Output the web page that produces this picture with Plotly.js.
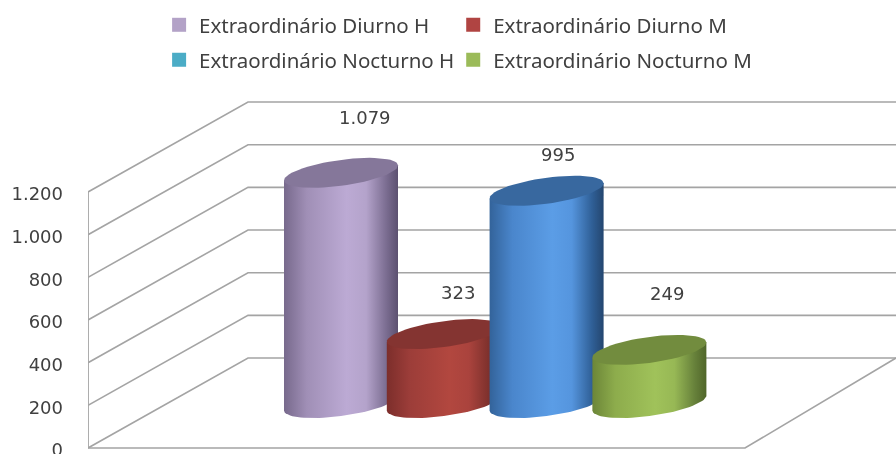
<!DOCTYPE html>
<html><head><meta charset="utf-8">
<script src="https://cdn.plot.ly/plotly-3.0.1.min.js"></script>
<style>html,body{margin:0;padding:0;background:#fff;overflow:hidden}#chart{width:896px;height:454px;filter:blur(0.45px)}</style>
</head><body><div id="chart"></div>
<script>
// Data
const seriesNames = ['Extraordinário Diurno H','Extraordinário Diurno M','Extraordinário Nocturno H','Extraordinário Nocturno M'];
const seriesValues = [1079, 323, 995, 249];
const tickValues = [0,200,400,600,800,1000,1200];
const tickLabels = ['0','200','400','600','800','1.000','1.200'];

// Styles
const legendColors = ['#b3a2c7','#b04442','#4bacc6','#9bbb59'];
const capColors = ['#85779a','#843431','#38689f','#728c3e'];
const bodyScales = [
  ['#77698c','#a08fb6','#bcaad4','#b4a3cb','#7a6c90','#5c5170'],
  ['#7c2e2b','#9c3d39','#b2473f','#aa433d','#7c302c','#652422'],
  ['#33639a','#4a86cc','#5b9de6','#5595de','#2f5f96','#24466f'],
  ['#6c8638','#8dac4c','#a0c25a','#97b855','#66803a','#50662a']
];
const stops = [0,0.2,0.55,0.72,0.9,1];
const gridColor = '#a4a4a4', textColor = '#404040';
const labelShiftX = [24,14,11,18], labelShiftY = [55,42,36,56];

// Oblique projection, in axis units
const pxX = 102.8, pxV = 0.2133;
const depthX = 160/pxX, depthV = 90/pxV;
const xMin = (88-261)/pxX, xMax = (896-261)/pxX, xFloorEnd = (745-261)/pxX;
const capA = 57/pxX, capB = 13/pxV, capSkew = 7.5/pxV, seat = 0.5;

function ell(cx, cy, t){ return [cx+capA*Math.cos(t), cy+capB*Math.sin(t)+capSkew*Math.cos(t)]; }
function arc(cx, cy, t0, t1, n){ const p=[]; for(let i=0;i<=n;i++){p.push(ell(cx,cy,t0+(t1-t0)*i/n));} return p; }

const traces = [];
// walls and floor
tickValues.forEach(v=>{
  traces.push({type:'scatter',mode:'lines',x:[xMin,xMin+depthX,xMax],y:[v,v+depthV,v+depthV],
    line:{color:gridColor,width:1.6},showlegend:false,hoverinfo:'skip',cliponaxis:false});
});
traces.push({type:'scatter',mode:'lines',x:[xMin,xMin],y:[0,tickValues[tickValues.length-1]],line:{color:gridColor,width:1.8},showlegend:false,hoverinfo:'skip',cliponaxis:false});
traces.push({type:'scatter',mode:'lines',x:[xMin,xFloorEnd,xMax],y:[0,0,depthV],line:{color:gridColor,width:1.6},showlegend:false,hoverinfo:'skip',cliponaxis:false});

// cylinders
seriesValues.forEach((v,i)=>{
  const cx = i + seat*depthX, base = seat*depthV, top = base+v;
  const low = arc(cx,base,Math.PI,2*Math.PI,40);
  const right = ell(cx,top,0), left = ell(cx,top,Math.PI);
  const body = low.concat([right,left]);
  traces.push({type:'scatter',mode:'lines',x:body.map(p=>p[0]),y:body.map(p=>p[1]),fill:'toself',
    line:{width:0,color:bodyScales[i][2]},
    fillgradient:{type:'horizontal',colorscale:stops.map((s,k)=>[s,bodyScales[i][k]])},
    showlegend:false,hoverinfo:'skip'});
  const cap = arc(cx,top,0,2*Math.PI,60);
  traces.push({type:'scatter',mode:'lines',x:cap.map(p=>p[0]),y:cap.map(p=>p[1]),fill:'toself',fillcolor:capColors[i],
    line:{width:0,color:capColors[i]},showlegend:false,hoverinfo:'skip'});
});

// legend entries: one small legend per series, laid out in two rows and two columns
const legendIds = ['legend','legend2','legend3','legend4'];
const legendX = [0.088,0.452,0.088,0.452];
const legendY = [0.945,0.945,0.868,0.868];
seriesNames.forEach((n,i)=>{
  traces.push({type:'scatter',mode:'markers',x:[null],y:[null],name:n,legend:legendIds[i],
    marker:{symbol:'square',size:14,color:legendColors[i]},showlegend:true});
});

const annotations = seriesValues.map((v,i)=>({
  x:i+seat*depthX,y:seat*depthV+v,xref:'x',yref:'y',showarrow:false,
  text:String(v).replace(/\B(?=(\d{3})+$)/g,'.'),xshift:labelShiftX[i],yshift:labelShiftY[i],
  font:{family:'DejaVu Sans',size:18,color:textColor}
}));

const layout = {
  width:896,height:454,paper_bgcolor:'#fff',plot_bgcolor:'#fff',
  margin:{l:88,r:0,t:0,b:0},showlegend:true,
  xaxis:{range:[xMin,xMax],visible:false,fixedrange:true},
  yaxis:{range:[(448-454)/pxV,448/pxV],tickmode:'array',tickvals:tickValues,ticktext:tickLabels,
    showgrid:false,zeroline:false,showline:false,ticks:'',ticklabelstandoff:24,ticklabeloverflow:'allow',ticklabelshift:2,fixedrange:true,
    tickfont:{family:'DejaVu Sans',size:18,color:textColor}},
  annotations:annotations
};
legendIds.forEach((id,i)=>{
  layout[id] = {orientation:'h',xanchor:'left',yanchor:'middle',bgcolor:'rgba(0,0,0,0)',
    font:{family:'Noto Sans',size:20.5,color:textColor},itemwidth:30,borderwidth:0,x:legendX[i],y:legendY[i]};
});

Plotly.newPlot('chart',traces,layout,{displayModeBar:false,staticPlot:true});
</script></body></html>
